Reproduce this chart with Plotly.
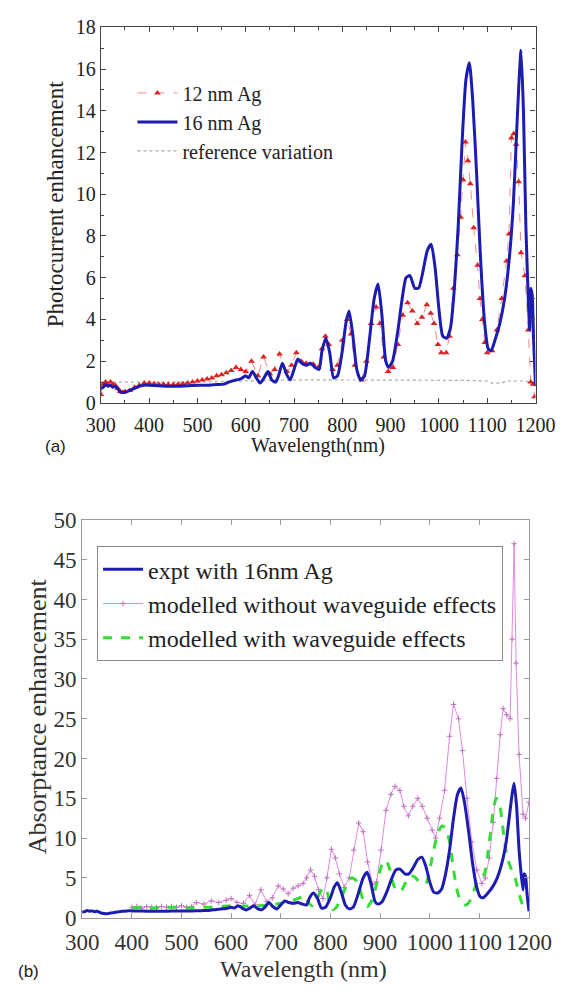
import plotly.graph_objects as go

W, H = 579, 994

# ---------------- Panel (a) data ----------------
wl_12 = [300, 305, 310, 315, 320, 325, 330, 335, 340, 345, 350, 360, 370, 380, 390, 400, 410, 420, 430, 440,
         450, 460, 470, 480, 490, 500, 510, 520, 530, 540, 550, 560, 570, 580, 590, 600, 612, 625, 637, 650,
         660, 670, 685, 695, 705, 715, 725, 740, 750, 758, 765, 772, 780, 790, 800, 810, 818, 826, 840, 850,
         860, 870, 878, 886, 895, 905, 915, 925, 935, 945, 955, 965, 975, 983, 990, 998, 1005, 1015, 1022, 1030,
         1038, 1045, 1050, 1055, 1060, 1065, 1072, 1080, 1085, 1090, 1095, 1100, 1110, 1120, 1130, 1140, 1145,
         1150, 1155, 1160, 1165, 1170, 1178, 1185, 1190, 1195, 1198]
pc_12 = [0.4, 0.9, 1.0, 0.85, 1.0, 0.9, 0.85, 0.7, 0.55, 0.5, 0.55, 0.6, 0.75, 0.85, 0.95, 0.95, 0.92, 0.9, 0.9, 0.88,
         0.88, 0.9, 0.92, 0.95, 1.0, 1.05, 1.1, 1.15, 1.2, 1.3, 1.35, 1.45, 1.55, 1.7, 1.6, 1.5, 2.0, 1.3, 2.2, 1.4,
         1.6, 2.35, 1.5, 1.8, 2.4, 2.0, 1.9, 1.85, 1.7, 2.6, 3.2, 2.8, 1.6, 1.8, 3.0, 4.0, 3.3, 1.8, 1.1, 2.0,
         3.8, 4.6, 3.8, 2.2, 1.5, 1.7, 2.8, 4.2, 4.8, 4.4, 3.8, 4.1, 4.7, 4.3, 3.8, 2.8, 2.4, 2.4, 3.2, 5.5,
         7.1, 8.9, 10.7, 12.5, 11.6, 10.5, 8.4, 6.6, 5.0, 4.0, 2.9, 2.4, 2.5, 3.5, 5.0, 6.8, 8.1,
         12.7, 12.9, 12.4, 10.6, 7.2, 6.1, 3.5, 1.0, 0.9, 0.3]

wl_16 = [300, 305, 310, 315, 320, 325, 330, 340, 350, 360, 370, 380, 390, 400, 420, 440, 460, 480, 500, 520,
         540, 555, 565, 580, 590, 600, 606, 614, 622, 630, 638, 646, 654, 662, 668, 676, 684, 692, 700, 708,
         716, 726, 734, 744, 752, 758, 766, 774, 782, 790, 800, 808, 814, 822, 830, 838, 846, 856, 866, 874,
         882, 890, 896, 904, 914, 924, 932, 940, 950, 958, 966, 976, 984, 992, 1000, 1008, 1016, 1024, 1032,
         1040, 1048, 1056, 1063, 1070, 1078, 1086, 1094, 1102, 1108, 1116, 1126, 1136, 1146, 1154, 1160, 1166,
         1170, 1175, 1180, 1185, 1188, 1190, 1193, 1196, 1200]
pc_16 = [0.7, 0.75, 0.9, 0.8, 0.85, 0.75, 0.8, 0.55, 0.5, 0.6, 0.7, 0.8, 0.85, 0.85, 0.82, 0.8, 0.8, 0.82, 0.85, 0.85,
         0.88, 0.9, 1.0, 1.1, 1.15, 1.3, 1.2, 1.5, 1.2, 0.95, 1.2, 1.5, 1.1, 1.0, 1.3, 1.9, 1.4, 1.1, 1.6, 2.1,
         1.9, 1.8, 1.9, 1.7, 1.6, 2.5, 3.1, 2.4, 1.2, 1.3, 2.5, 3.9, 4.4, 3.2, 1.6, 1.1, 1.3, 3.0, 5.0, 5.7,
         4.2, 2.0, 1.7, 2.0, 3.3, 5.0, 6.0, 6.1, 5.5, 5.5, 6.2, 7.3, 7.6, 6.5, 4.5, 3.2, 3.1, 3.6, 5.5,
         8.5, 12.5, 15.5, 16.3, 14.5, 11.0, 7.0, 4.0, 2.6, 2.5, 3.0, 3.8, 5.0, 7.0, 9.5, 12.5, 15.5,
         16.9, 14.0, 8.5, 5.0, 3.5, 5.5, 5.2, 3.0, 0.8]

wl_ref = [300, 400, 500, 600, 700, 800, 900, 1000, 1050, 1100, 1110, 1130, 1140, 1180, 1200]
pc_ref = [1.0, 1.0, 1.0, 1.05, 1.1, 1.1, 1.1, 1.1, 1.08, 1.05, 0.95, 0.95, 1.05, 1.05, 0.85]

# ---------------- Panel (b) data ----------------
wl_nowg = [400, 410, 420, 430, 440, 450, 460, 470, 480, 490, 500, 510, 520, 530, 545, 560, 575, 590, 600, 612,
           625, 637, 648, 660, 672, 683, 695, 705, 715, 725, 735, 745, 752, 760, 768, 776, 785, 793, 802, 810,
           818, 828, 838, 847, 857, 866, 875, 885, 893, 902, 912, 922, 930, 940, 948, 957, 966, 976, 985, 995,
           1005, 1012, 1020, 1030, 1040, 1048, 1058, 1066, 1075, 1085, 1095, 1105, 1112, 1120, 1128, 1135, 1142,
           1148, 1155, 1162, 1166, 1170, 1174, 1180, 1188, 1193, 1200]
ae_nowg = [1.3, 1.4, 1.2, 1.4, 1.3, 1.3, 1.4, 1.3, 1.4, 1.3, 1.5, 1.3, 1.4, 1.9, 1.7, 2.1, 1.9, 2.2, 2.4, 1.9,
           1.8, 2.8, 1.6, 3.5, 2.0, 2.5, 4.0, 3.6, 3.0, 3.7, 4.0, 4.3, 5.0, 6.0, 5.2, 3.5, 2.4, 5.0, 8.6, 7.5,
           5.5, 3.8, 5.0, 8.5, 11.9, 10.8, 7.0, 4.2, 4.5, 8.5, 13.5, 15.5, 16.5, 16.0, 14.0, 12.8, 14.0, 15.0, 14.0, 12.5,
           11.0, 10.0, 12.5, 16.0, 22.8, 26.8, 25.0, 21.0, 15.0, 9.5, 6.0, 4.3, 5.0, 7.5, 12.0, 17.5, 23.0,
           26.3, 25.5, 25.0, 35.0, 47.0, 32.0, 20.5, 13.0, 12.5, 14.5]

wl_wg = [400, 420, 440, 460, 480, 500, 520, 540, 560, 580, 600, 620, 640, 660, 680, 700, 715, 730, 742, 750,
         757, 763, 770, 778, 786, 792, 798, 805, 812, 822, 832, 842, 850, 858, 866, 874, 882, 890, 898, 906,
         912, 920, 928, 936, 944, 952, 960, 968, 976, 984, 992, 1000, 1008, 1016, 1024, 1032, 1040, 1048, 1056,
         1064, 1072, 1080, 1088, 1096, 1104, 1110, 1116, 1122, 1128, 1134, 1140, 1146, 1152, 1158, 1165, 1172,
         1180, 1188, 1196]
ae_wg = [1.2, 1.3, 1.2, 1.3, 1.3, 1.3, 1.2, 1.3, 1.3, 1.4, 1.5, 1.4, 1.5, 1.5, 1.6, 1.8, 2.0, 2.3, 2.6, 2.8,
         1.8, 1.5, 2.0, 3.0, 3.8, 3.5, 2.0, 1.0, 1.3, 2.5, 4.0, 5.0, 4.8, 3.8, 2.2, 1.4, 2.0, 3.5, 5.5, 7.0,
         7.2, 6.0, 4.0, 3.2, 3.5, 4.5, 5.2, 5.2, 4.7, 4.3, 4.2, 6.0, 8.5, 10.5, 11.5, 11.3, 9.5, 6.0, 3.2,
         1.9, 1.6, 2.0, 3.2, 4.5, 5.0, 5.5, 7.5, 10.5, 13.5, 15.0, 14.5, 12.0, 9.0, 7.2, 6.0, 5.0,
         3.0, 1.5, 1.0]

x_ticks = [300, 400, 500, 600, 700, 800, 900, 1000, 1100, 1200]
y_ticks_a = [0, 2, 4, 6, 8, 10, 12, 14, 16, 18]
y_ticks_b = [0, 5, 10, 15, 20, 25, 30, 35, 40, 45, 50]

SERIF = "Liberation Serif"
SANS = "Liberation Sans"
BLUE = "#1c1cb0"

fig = go.Figure()

# Panel (a)
fig.add_trace(go.Scatter(x=wl_ref, y=pc_ref, mode="lines", name="reference variation",
                         line=dict(color="#a8a8a8", width=1.2, dash="dot"),
                         xaxis="x", yaxis="y", legend="legend", legendrank=3))
fig.add_trace(go.Scatter(x=wl_12, y=pc_12, mode="lines+markers", name="12 nm Ag",
                         line=dict(color="#f08c8c", width=1, dash="dash"),
                         marker=dict(symbol="triangle-up", size=6, color="#dd2222"),
                         xaxis="x", yaxis="y", legend="legend", legendrank=1))
fig.add_trace(go.Scatter(x=wl_16, y=pc_16, mode="lines", name="16 nm Ag",
                         line=dict(color=BLUE, width=3, shape="spline", smoothing=0.6),
                         xaxis="x", yaxis="y", legend="legend", legendrank=2))

# Panel (b)
fig.add_trace(go.Scatter(x=wl_nowg, y=ae_nowg, mode="lines+markers", name="modelled without waveguide effects",
                         line=dict(color="#e08ae0", width=1),
                         marker=dict(symbol="cross-thin", size=4, line=dict(color="#c070c0", width=1)),
                         xaxis="x2", yaxis="y2", legend="legend2", legendrank=2))
fig.add_trace(go.Scatter(x=wl_wg, y=ae_wg, mode="lines", name="modelled with waveguide effects",
                         line=dict(color="#33dd33", width=3, dash="dash", shape="spline", smoothing=0.6),
                         xaxis="x2", yaxis="y2", legend="legend2", legendrank=3))
fig.add_trace(go.Scatter(x=wl_16, y=pc_16, mode="lines", name="expt with 16nm Ag",
                         line=dict(color=BLUE, width=3, shape="spline", smoothing=0.6),
                         xaxis="x2", yaxis="y2", legend="legend2", legendrank=1))

def px_x(p):
    return p / W

def px_y(p):
    return 1 - p / H

axis_a = dict(showline=True, mirror="ticks", linecolor="#444", linewidth=1.3,
              ticks="inside", ticklen=5, tickcolor="#444", tickwidth=1.2,
              showgrid=False, zeroline=False,
              tickfont=dict(family=SERIF, size=20, color="#222"))
axis_b = dict(showline=True, mirror="ticks", linecolor="#9a9a9a", linewidth=1.2,
              ticks="inside", ticklen=5, tickcolor="#9a9a9a", tickwidth=1,
              showgrid=False, zeroline=False,
              tickfont=dict(family=SERIF, size=23, color="#333"))

def ann(text, x, y, size, angle=0, family=SERIF, color="#222"):
    return dict(text=text, x=px_x(x), y=px_y(y), xref="paper", yref="paper",
                xanchor="center", yanchor="middle", textangle=angle, showarrow=False,
                font=dict(family=family, size=size, color=color))

fig.update_layout(
    width=W, height=H,
    margin=dict(l=0, r=0, t=0, b=0),
    paper_bgcolor="white", plot_bgcolor="white",
    showlegend=True,
    xaxis=dict(axis_a, domain=[px_x(90), px_x(557)], range=[300, 1200], tickvals=x_ticks,
               ticklabelstandoff=4,
               minor=dict(dtick=50, ticks="inside", ticklen=3, tickcolor="#444"), anchor="y"),
    yaxis=dict(axis_a, domain=[px_y(401), px_y(15.7)], range=[0, 18], tickvals=y_ticks_a,
               minor=dict(dtick=1, ticks="inside", ticklen=3, tickcolor="#444"), anchor="x"),
    xaxis2=dict(axis_b, domain=[px_x(70), px_x(550)], range=[300, 1200], tickvals=x_ticks,
                ticklabelstandoff=4, anchor="y2"),
    yaxis2=dict(axis_b, domain=[px_y(929), px_y(521)], range=[0, 50], tickvals=y_ticks_b, anchor="x2"),
    legend=dict(x=px_x(124), y=px_y(63), xanchor="left", yanchor="top",
                bgcolor="rgba(0,0,0,0)", borderwidth=0,
                font=dict(family=SERIF, size=20, color="#222"),
                itemwidth=40, tracegroupgap=0),
    legend2=dict(x=px_x(86), y=px_y(548), xanchor="left", yanchor="top",
                 bgcolor="white", bordercolor="#888", borderwidth=1,
                 font=dict(family=SERIF, size=24, color="#222"),
                 itemwidth=40, tracegroupgap=0),
    annotations=[
        ann("Photocurrent enhancement", 41, 197, 23, angle=-90),
        ann("Wavelength(nm)", 323, 445, 20),
        ann("(a)", 41, 446, 17, family=SANS),
        ann("Absorptance enhancement", 22, 722, 26, angle=-90, color="#333"),
        ann("Wavelength (nm)", 308, 982, 24, color="#333"),
        ann("(b)", 12, 984, 17, family=SANS),
    ],
)

fig.write_html("out.html")
